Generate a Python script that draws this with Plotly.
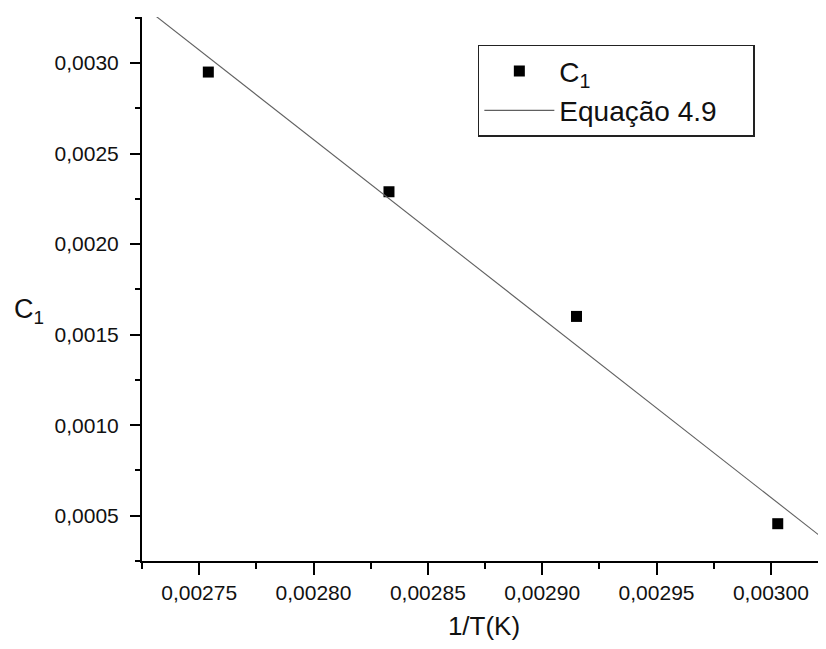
import numpy as np
import plotly.graph_objects as go

# Data
inv_T = [0.002754, 0.002833, 0.002915, 0.003003]
c1_values = [0.00295, 0.002289, 0.0016006, 0.000456]

x_tick_vals = [0.00275, 0.00280, 0.00285, 0.00290, 0.00295, 0.00300]
x_tick_text = ["0,00275", "0,00280", "0,00285", "0,00290", "0,00295", "0,00300"]
y_tick_vals = [0.0005, 0.0010, 0.0015, 0.0020, 0.0025, 0.0030]
y_tick_text = ["0,0005", "0,0010", "0,0015", "0,0020", "0,0025", "0,0030"]

x_range = [0.002725, 0.0030241]
y_range = [0.00025, 0.003254]

# Equation 4.9: linear fit of the data
slope, intercept = np.polyfit(inv_T, c1_values, 1)
fit_x = np.array([0.00272, 0.00303])
fit_y = slope * fit_x + intercept

font_family = "Liberation Sans, Arial, sans-serif"
ink = "#111111"

fig = go.Figure()
fig.add_trace(go.Scatter(
    x=inv_T, y=c1_values, mode="markers", name="C<sub>1</sub>",
    marker=dict(symbol="square", size=11, color="#000000"),
))
fig.add_trace(go.Scatter(
    x=fit_x, y=fit_y, mode="lines", name="Equação 4.9\u00a0\u00a0\u00a0\u00a0",
    line=dict(color="#606060", width=1.1),
))

axis_common = dict(
    showgrid=False, zeroline=False, showline=True, linecolor="#000000",
    linewidth=2, ticks="outside", tickcolor="#000000", tickwidth=2,
    tickfont=dict(family=font_family, size=21, color=ink),
    mirror=False, automargin=False,
)

fig.update_xaxes(
    range=x_range, tickvals=x_tick_vals, ticktext=x_tick_text, ticklen=12,
    minor=dict(ticks="outside", ticklen=6, tickwidth=2, tickcolor="#000000",
               dtick=0.000025, tick0=0.002725, showgrid=False),
    title=dict(text="1/T(K)", font=dict(family=font_family, size=26, color=ink),
               standoff=14),
    **axis_common,
)
fig.update_yaxes(
    range=y_range, tickvals=y_tick_vals, ticktext=y_tick_text, ticklen=10,
    ticklabelstandoff=7,
    minor=dict(ticks="outside", ticklen=5, tickwidth=2, tickcolor="#000000",
               dtick=0.00025, tick0=0.00025, showgrid=False),
    **axis_common,
)

fig.add_annotation(
    text="C<sub>1</sub>", xref="paper", yref="paper", x=-0.19, y=0.46,
    xanchor="left", yanchor="middle", showarrow=False,
    font=dict(family=font_family, size=27, color=ink),
)

fig.update_layout(
    width=818, height=641,
    margin=dict(l=134, r=0, t=9, b=88),
    paper_bgcolor="#ffffff", plot_bgcolor="#ffffff",
    showlegend=True,
    legend=dict(
        x=0.491, y=0.949, xanchor="left", yanchor="top",
        bordercolor="#222222", borderwidth=1.5, bgcolor="#ffffff",
        font=dict(family=font_family, size=28, color=ink),
        itemwidth=70, tracegroupgap=0,
    ),
)

fig.write_html("out.html")
